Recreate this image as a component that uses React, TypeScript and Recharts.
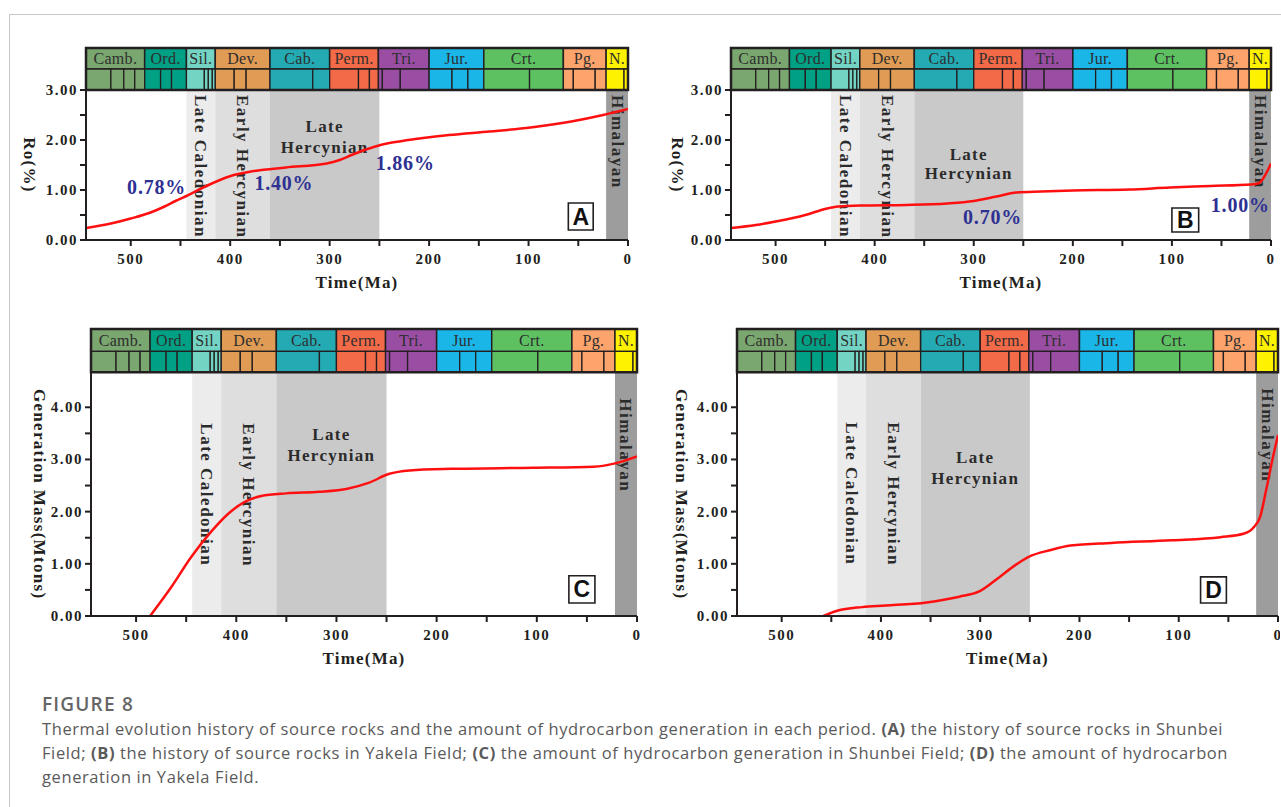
import React from 'react';
import { LineChart, Line, XAxis, YAxis, ReferenceArea, ReferenceDot } from 'recharts';

const SERIF = '"Liberation Serif", "Times New Roman", serif';
const INK = '#231f20';

// geologic time scale (Ma)
const periodNames = ['Camb.', 'Ord.', 'Sil.', 'Dev.', 'Cab.', 'Perm.', 'Tri.', 'Jur.', 'Crt.', 'Pg.', 'N.'];
const periodBounds = [545, 486, 444, 415, 360, 300, 251, 200, 145, 65, 22, 0];
const periodColors = ['#7aa66f', '#00a085', '#74d4c4', '#e09c54', '#24aab3', '#f36a48', '#9a4ea3', '#1bb6e8', '#5dc162', '#fda46d', '#fff200'];
const epochLines = [[520, 507, 496], [470, 459], [426, 422, 418], [396, 384], [317], [271, 260], [247, 229], [177, 161], [99], [55, 33], [4]];

// tectonic episodes
const episodeNames = ['Late Caledonian', 'Early Hercynian', 'Late Hercynian', 'Himalayan'];
const episodeStart = [444, 415, 360, 22];
const episodeEnd = [415, 360, 250, 0];
const episodeFills = ['#ececec', '#dedede', '#c9c9c9', '#9d9d9d'];

const ageTicks = [500, 450, 400, 350, 300, 250, 200, 150, 100, 50, 0];
const roTicks = [0, 0.5, 1, 1.5, 2, 2.5, 3];
const massTicks = [0, 0.5, 1, 1.5, 2, 2.5, 3, 3.5, 4];

// A: Ro, Shunbei
const ageA = [545, 520, 500, 480, 466, 455, 444, 425, 401, 376, 344, 303, 290, 278, 265, 254, 240, 221, 180, 139, 98, 57, 25, 0];
const roA = [0.24, 0.33, 0.43, 0.55, 0.67, 0.78, 0.88, 1.07, 1.27, 1.38, 1.45, 1.53, 1.6, 1.7, 1.8, 1.87, 1.94, 2.0, 2.1, 2.17, 2.25, 2.37, 2.5, 2.62];
const pctTextA = ['0.78%', '1.40%', '1.86%'];
const pctAgeA = [474, 346, 224];
const pctValA = [1.06, 1.14, 1.54];

// B: Ro, Yakela
const ageB = [545, 520, 500, 470, 450, 437, 409, 368, 327, 300, 277, 257, 232, 200, 143, 102, 61, 20, 12, 5, 0];
const roB = [0.24, 0.3, 0.37, 0.5, 0.62, 0.67, 0.69, 0.7, 0.73, 0.78, 0.87, 0.95, 0.97, 0.99, 1.01, 1.05, 1.08, 1.11, 1.14, 1.33, 1.53];
const pctTextB = ['0.70%', '1.00%'];
const pctAgeB = [281, 31];
const pctValB = [0.46, 0.7];

// C: generation mass, Shunbei
const ageC = [486, 465, 445, 424, 408, 391, 375, 350, 317, 289, 268, 248, 227, 186, 104, 43, 23, 0];
const massC = [0, 0.55, 1.13, 1.64, 1.96, 2.19, 2.3, 2.35, 2.38, 2.44, 2.55, 2.72, 2.79, 2.82, 2.84, 2.86, 2.92, 3.06];

// D: generation mass, Yakela
const ageD = [458, 444, 419, 395, 354, 321, 301, 281, 265, 248, 230, 209, 168, 107, 58, 34, 24, 18, 12, 5, 0];
const massD = [0, 0.1, 0.17, 0.2, 0.26, 0.37, 0.47, 0.74, 0.97, 1.16, 1.26, 1.35, 1.4, 1.45, 1.51, 1.58, 1.71, 1.9, 2.41, 3.05, 3.47];

const boldSerif = { fontFamily: SERIF, fontWeight: 'bold', fill: INK } as any;

function AgeTick(props: any) {
  const { x, y, payload } = props;
  if (payload.value % 100 !== 0) return null;
  return (
    <text x={x} y={y} dy={16} textAnchor="middle" fontSize={15} letterSpacing={1.5} {...boldSerif}>
      {payload.value}
    </text>
  );
}

function ValueTick(props: any) {
  const { x, y, payload } = props;
  if (payload.value % 1 !== 0) return null;
  return (
    <text x={x} y={y} dy={5} textAnchor="end" fontSize={15} letterSpacing={1.5} {...boldSerif}>
      {payload.value.toFixed(2)}
    </text>
  );
}

const vText = (text: string, offset: number) => (p: any) => {
  const vb = p.viewBox;
  const cx = vb.x + vb.width / 2;
  const y = vb.y + offset;
  return (
    <text x={cx} y={y} transform={`rotate(90 ${cx} ${y})`} dominantBaseline="central"
      fontSize={17} letterSpacing={1.5} {...boldSerif} fill="#2b2b2b">
      {text}
    </text>
  );
};

const twoLines = (text: string, o1: number, o2: number) => (p: any) => {
  const vb = p.viewBox;
  const cx = vb.x + vb.width / 2;
  const [a, b] = text.split(' ');
  return (
    <g>
      <text x={cx} y={vb.y + o1} textAnchor="middle" dominantBaseline="central" fontSize={17} letterSpacing={1.3} {...boldSerif} fill="#2b2b2b">{a}</text>
      <text x={cx} y={vb.y + o2} textAnchor="middle" dominantBaseline="central" fontSize={17} letterSpacing={1.3} {...boldSerif} fill="#2b2b2b">{b}</text>
    </g>
  );
};

const centered = (text: string, style: any) => (p: any) => {
  const vb = p.viewBox;
  return (
    <text x={vb.x + vb.width / 2} y={vb.y + vb.height / 2} textAnchor="middle" dominantBaseline="central" {...style}>
      {text}
    </text>
  );
};

function Panel({ cfg }: { cfg: any }) {
  const data = cfg.ages.map((age: number, i: number) => ({ age, v: cfg.values[i] }));
  const yTitle = (p: any) => {
    const vb = p.viewBox;
    const barPx = (vb.height * (cfg.yTop - cfg.barBottom)) / cfg.yTop;
    const cy = vb.y + barPx + (vb.height - barPx) / 2;
    return (
      <text x={cfg.titleX} y={cy} transform={`rotate(90 ${cfg.titleX} ${cy})`} textAnchor="middle" dominantBaseline="central"
        fontSize={17} letterSpacing={1.3} {...boldSerif}>
        {cfg.title}
      </text>
    );
  };
  const xTitle = (p: any) => {
    const vb = p.viewBox;
    return (
      <text x={vb.x + vb.width / 2} y={vb.y + 48} textAnchor="middle" fontSize={17} letterSpacing={1.2} {...boldSerif}>
        Time(Ma)
      </text>
    );
  };

  const scale: React.ReactNode[] = [];
  periodNames.forEach((name, i) => {
    const s = periodBounds[i];
    const e = periodBounds[i + 1];
    scale.push(
      <ReferenceArea key={'p' + i} x1={s} x2={e} y1={cfg.barMid} y2={cfg.yTop} fill={periodColors[i]} fillOpacity={1}
        stroke={INK} strokeWidth={1.5}
        label={centered(name, { fontFamily: SERIF, fontSize: 16, fill: '#2e2e2e', letterSpacing: 0.3 })} />
    );
    const cuts = [s, ...epochLines[i], e];
    for (let j = 0; j < cuts.length - 1; j++) {
      scale.push(
        <ReferenceArea key={'e' + i + '-' + j} x1={cuts[j]} x2={cuts[j + 1]} y1={cfg.barBottom} y2={cfg.barMid}
          fill={periodColors[i]} fillOpacity={1} stroke={INK} strokeWidth={1.3} />
      );
    }
  });

  return (
    <div style={{ position: 'absolute', left: cfg.left, top: cfg.top }}>
      <LineChart width={640} height={cfg.height} data={data}
        margin={{ top: cfg.mTop, right: cfg.mRight, bottom: 0, left: 0 }}>
        <XAxis type="number" dataKey="age" domain={[0, 545]} reversed allowDataOverflow ticks={ageTicks} interval={0}
          tick={AgeTick} tickSize={6} tickMargin={2} height={60}
          tickLine={{ stroke: INK, strokeWidth: 2 }} axisLine={{ stroke: INK, strokeWidth: 2 }} label={xTitle} />
        <YAxis type="number" domain={[0, cfg.yTop]} allowDataOverflow ticks={cfg.yTicks} interval={0}
          tick={ValueTick} tickSize={6} tickMargin={2} width={cfg.yWidth}
          tickLine={{ stroke: INK, strokeWidth: 2 }} axisLine={{ stroke: INK, strokeWidth: 2 }} label={yTitle} />
        {episodeNames.map((name, i) => (
          <ReferenceArea key={'ep' + i} x1={episodeStart[i]} x2={episodeEnd[i]} y1={0} y2={cfg.barBottom}
            fill={episodeFills[i]} fillOpacity={1} stroke="none"
            label={i === 2 ? twoLines(name, cfg.herc[0], cfg.herc[1]) : vText(name, cfg.vOff[i])} />
        ))}
        {scale}
        <ReferenceArea x1={545} x2={0} y1={cfg.barBottom} y2={cfg.yTop} fill="none" fillOpacity={0} stroke={INK} strokeWidth={2.5} />
        <Line type="monotone" dataKey="v" stroke="#ff1010" strokeWidth={2.5} dot={false} isAnimationActive={false} />
        {(cfg.pctText || []).map((t: string, i: number) => (
          <ReferenceDot key={'pct' + i} x={cfg.pctAge[i]} y={cfg.pctVal[i]} r={1} fill="none" stroke="none"
            label={centered(t, { fontFamily: SERIF, fontWeight: 'bold', fontSize: 20, letterSpacing: 0.8, fill: '#2e3192' })} />
        ))}
        <ReferenceArea x1={cfg.box[0]} x2={cfg.box[1]} y1={cfg.box[2]} y2={cfg.box[3]} fill="#fff" fillOpacity={1}
          stroke={INK} strokeWidth={1.6}
          label={centered(cfg.letter, { fontFamily: '"Liberation Sans", Arial, sans-serif', fontWeight: 'bold', fontSize: 23, fill: '#111' })} />
      </LineChart>
    </div>
  );
}

const panels = [
  {
    left: 0, top: 0, height: 300, mTop: 48, mRight: 12, yWidth: 86, titleX: 29, title: 'Ro(%)',
    yTop: 3.84, barMid: 3.42, barBottom: 3.0, yTicks: roTicks,
    ages: ageA, values: roA, pctText: pctTextA, pctAge: pctAgeA, pctVal: pctValA,
    vOff: [5, 5, 0, 5], herc: [36, 57], box: [60, 35, 0.2, 0.74], letter: 'A',
  },
  {
    left: 640, top: 0, height: 300, mTop: 48, mRight: 9, yWidth: 91, titleX: 37, title: 'Ro(%)',
    yTop: 3.84, barMid: 3.42, barBottom: 3.0, yTicks: roTicks,
    ages: ageB, values: roB, pctText: pctTextB, pctAge: pctAgeB, pctVal: pctValB,
    vOff: [5, 5, 0, 5], herc: [64, 83], box: [100, 73, 0.16, 0.64], letter: 'B',
  },
  {
    left: 0, top: 300, height: 376, mTop: 29, mRight: 3, yWidth: 91, titleX: 39, title: 'Generation Mass(Mtons)',
    yTop: 5.5, barMid: 5.07, barBottom: 4.67, yTicks: massTicks,
    ages: ageC, values: massC,
    vOff: [51, 51, 0, 26], herc: [62, 83], box: [68, 42, 0.25, 0.77], letter: 'C',
  },
  {
    left: 640, top: 300, height: 376, mTop: 29, mRight: 2, yWidth: 97, titleX: 41, title: 'Generation Mass(Mtons)',
    yTop: 5.5, barMid: 5.07, barBottom: 4.67, yTicks: massTicks,
    ages: ageD, values: massD,
    vOff: [50, 50, 0, 16], herc: [85, 106], box: [78, 52, 0.25, 0.75], letter: 'D',
  },
];

export default function App() {
  return (
    <div style={{ position: 'absolute', left: 0, top: 0, width: 1281, height: 807, overflow: 'hidden', background: '#fff' }}>
      <div style={{ position: 'absolute', left: 9, top: 14, width: 1400, height: 900, border: '1px solid #c9c9c9' }} />
      {panels.map((cfg) => (
        <Panel key={cfg.letter} cfg={cfg} />
      ))}
      <div style={{ position: 'absolute', left: 42, top: 692, fontFamily: '"Open Sans", sans-serif', color: '#5a5a5a', whiteSpace: 'nowrap' }}>
        <div style={{ fontSize: 19, fontWeight: 600, lineHeight: '25px', letterSpacing: 1.2, color: '#666' }}>FIGURE 8</div>
        <div style={{ fontSize: 16.5, lineHeight: '24px', letterSpacing: 0.6 }}>
          Thermal evolution history of source rocks and the amount of hydrocarbon generation in each period. <b>(A)</b> the history of source rocks in Shunbei
          <br />
          Field; <b>(B)</b> the history of source rocks in Yakela Field; <b>(C)</b> the amount of hydrocarbon generation in Shunbei Field; <b>(D)</b> the amount of hydrocarbon
          <br />
          generation in Yakela Field.
        </div>
      </div>
    </div>
  );
}
